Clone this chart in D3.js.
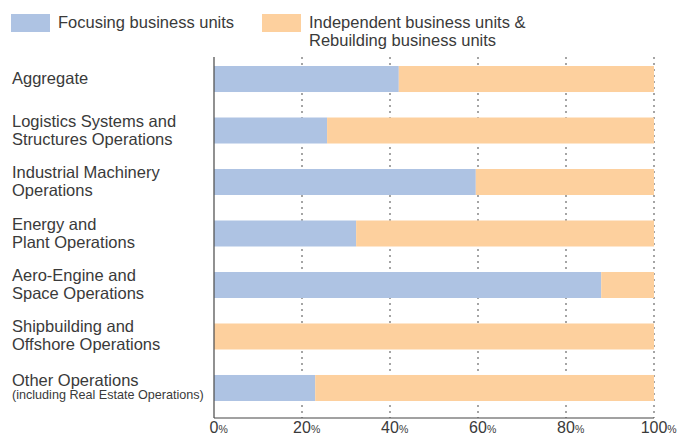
<!DOCTYPE html>
<head>
  <meta charset="utf-8">
  <script src="https://d3js.org/d3.v7.min.js"></script>
  <style>
    body { margin:0; background:#fff; }
    text { font-family: "Liberation Sans", Arial, sans-serif; fill:#3a3a3a; }
  </style>
</head>
<body>
  <script>
    var width = 686, height = 435;

    // category labels (lines), focusing share in %
    var categories = [
      ["Aggregate"],
      ["Logistics Systems and", "Structures Operations"],
      ["Industrial Machinery", "Operations"],
      ["Energy and", "Plant Operations"],
      ["Aero-Engine and", "Space Operations"],
      ["Shipbuilding and", "Offshore Operations"],
      ["Other Operations", "(including Real Estate Operations)"]
    ];
    var focusing = [42, 25.7, 59.5, 32.3, 88, 0, 23];
    var ticks = [0, 20, 40, 60, 80, 100];
    var seriesNames = ["Focusing business units", ["Independent business units &", "Rebuilding business units"]];
    var colors = ["#aec3e3", "#fdd09e"];

    var svg = d3.select("body").append("svg")
      .attr("width", width)
      .attr("height", height);

    var x = d3.scaleLinear().domain([0, 100]).range([214, 654]);
    var y = d3.scaleBand().domain(d3.range(categories.length))
      .range([53.5, 413.5]).paddingInner(0.495).paddingOuter(0.243);

    // gridlines
    svg.selectAll("line.grid").data(ticks.slice(1)).enter().append("line")
      .attr("x1", d => x(d)).attr("x2", d => x(d))
      .attr("y1", 57).attr("y2", 418)
      .attr("stroke", "#888").attr("stroke-width", 1.5)
      .attr("stroke-dasharray", "2,4");

    var rows = svg.selectAll("g.row").data(categories).enter().append("g").attr("class", "row");

    rows.append("rect")
      .attr("x", x(0))
      .attr("y", (d, i) => y(i))
      .attr("height", y.bandwidth())
      .attr("width", (d, i) => x(focusing[i]) - x(0))
      .attr("fill", colors[0]);
    rows.append("rect")
      .attr("x", (d, i) => x(focusing[i]))
      .attr("y", (d, i) => y(i))
      .attr("height", y.bandwidth())
      .attr("width", (d, i) => x(100) - x(focusing[i]))
      .attr("fill", colors[1]);

    // category labels
    rows.each(function(d, i) {
      var g = d3.select(this);
      var cy = y(i) + y.bandwidth() / 2;
      if (d.length == 1) {
        g.append("text").attr("x", 12).attr("y", cy + 5).style("font-size", "16.5px").text(d[0]);
      } else if (i == categories.length - 1) {
        g.append("text").attr("x", 12).attr("y", cy - 2).style("font-size", "16.5px").text(d[0]);
        g.append("text").attr("x", 12).attr("y", cy + 11).style("font-size", "12.6px").text(d[1]);
      } else {
        g.append("text").attr("x", 12).attr("y", cy - 4).style("font-size", "16.5px").text(d[0]);
        g.append("text").attr("x", 12).attr("y", cy + 14).style("font-size", "16.5px").text(d[1]);
      }
    });

    // axes
    svg.append("line").attr("x1", 214).attr("x2", 214).attr("y1", 57).attr("y2", 418)
      .attr("stroke", "#555").attr("stroke-width", 1.3);
    svg.append("line").attr("x1", 214).attr("x2", 654).attr("y1", 418).attr("y2", 418)
      .attr("stroke", "#444").attr("stroke-width", 1);

    var tl = svg.selectAll("g.tick").data(ticks).enter().append("g").attr("class", "tick");
    tl.append("text")
      .attr("x", d => x(d))
      .attr("y", 433)
      .attr("text-anchor", "middle")
      .style("font-size", "16px")
      .text(d => d);
    tl.each(function(d) {
      var g = d3.select(this);
      var w = g.select("text").node().getComputedTextLength();
      g.append("text")
        .attr("x", x(d) + w / 2)
        .attr("y", 433)
        .style("font-size", "10.5px")
        .text("%");
    });

    // legend
    svg.append("rect").attr("x", 11).attr("y", 14).attr("width", 39).attr("height", 18).attr("fill", colors[0]);
    svg.append("text").attr("x", 58).attr("y", 27.5).style("font-size", "16.5px").text(seriesNames[0]);
    svg.append("rect").attr("x", 262).attr("y", 14).attr("width", 39).attr("height", 18).attr("fill", colors[1]);
    svg.append("text").attr("x", 309).attr("y", 27.5).style("font-size", "16.5px").text(seriesNames[1][0]);
    svg.append("text").attr("x", 309).attr("y", 46).style("font-size", "16.5px").text(seriesNames[1][1]);
  </script>
</body>
</html>
